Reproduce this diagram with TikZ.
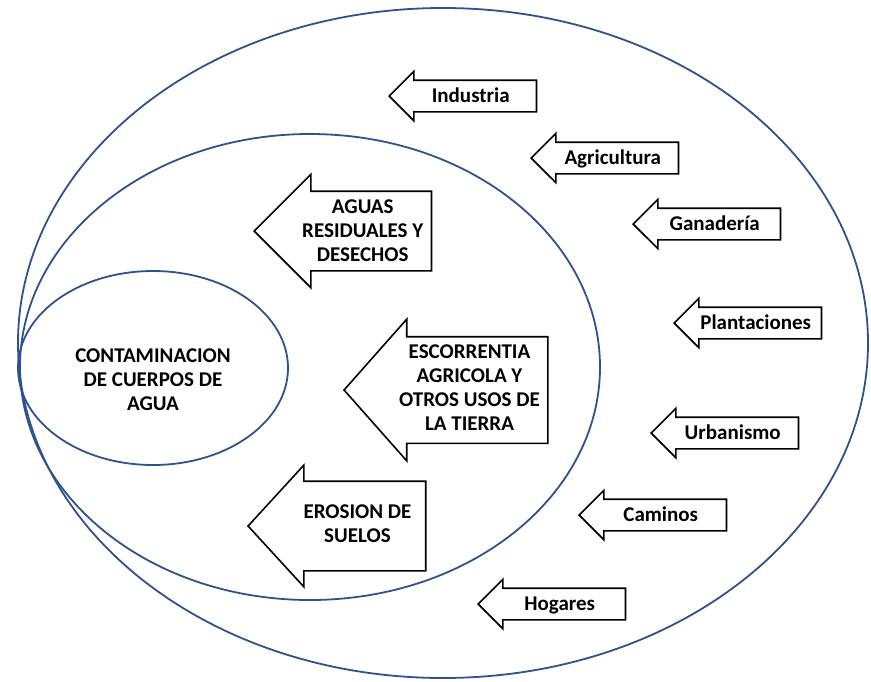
\documentclass[tikz,border=0pt]{standalone}
\usepackage{fontspec}
\setmainfont{Carlito}
\usepackage{xcolor}
\usepackage{tikz}
\usetikzlibrary{shapes.arrows,shapes.geometric}
\definecolor{azul}{HTML}{2F528F}

\begin{document}
\begin{tikzpicture}[x=1pt, y=-1pt,
  anillo/.style={draw=azul, line width=1.8pt},
  txt/.style={font=\bfseries\fontsize{21}{24}\selectfont, align=flush center},
  fl/.style={single arrow, shape border rotate=180, draw, line width=1.6pt, txt, inner xsep=4pt, inner ysep=0pt, anchor=tip},
  chica/.style={fl, text width=122pt, text height=21pt, text depth=9pt, single arrow head extend=9pt, single arrow tip angle=90},
  grande/.style={fl, single arrow tip angle=95}]
\useasboundingbox (0,0) rectangle (871,681);
% los tres anillos
\draw[anillo] (443,343) ellipse [x radius=425, y radius=335];
\draw[anillo] (310,367) ellipse [x radius=290, y radius=233];
\draw[anillo] (153,368) ellipse [x radius=135, y radius=97];
\node[txt] (centro) at (153,380) {CONTAMINACION\\DE CUERPOS DE\\AGUA};
% causas directas
\node[grande, text width=128pt, text height=21.5pt, text depth=56.5pt, single arrow head extend=17pt, single arrow tip angle=90] (aguas) at (253,231) {AGUAS\\RESIDUALES Y\\DESECHOS};
\node[grande, text width=147pt, text height=20.5pt, text depth=84.5pt, single arrow head extend=17.5pt, single arrow tip angle=97] (escorrentia) at (343,390) {ESCORRENTIA\\AGRICOLA Y\\OTROS USOS DE\\LA TIERRA};
\node[grande, text width=127pt, text height=36pt, text depth=52pt, single arrow head extend=16pt] (erosion) at (247,526) {EROSION DE\\SUELOS};
% actividades
\node[chica] (industria) at (388,96) {Industria};
\node[chica] (agricultura) at (530,158) {Agricultura};
\node[chica] (ganaderia) at (632,224) {Ganadería};
\node[chica] (plantaciones) at (673,323) {Plantaciones};
\node[chica] (urbanismo) at (650,433) {Urbanismo};
\node[chica] (caminos) at (578,515) {Caminos};
\node[chica] (hogares) at (477,604) {Hogares};
\end{tikzpicture}
\end{document}
